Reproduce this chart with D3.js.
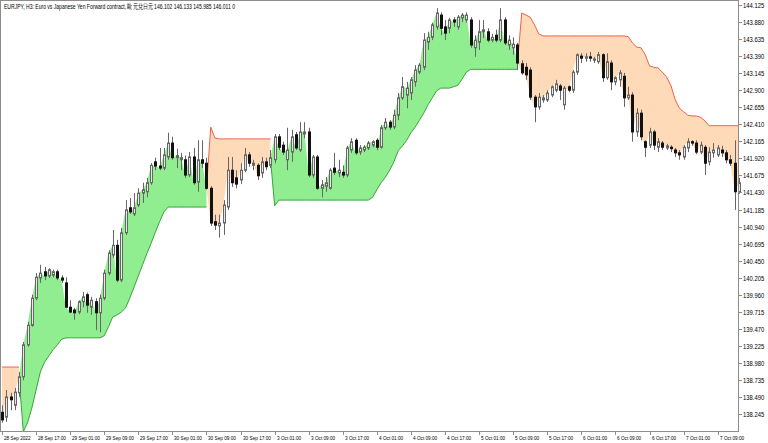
<!DOCTYPE html>
<html><head><meta charset="utf-8">
<script src="https://cdn.jsdelivr.net/npm/d3@7"></script>
<style>
html,body{margin:0;padding:0;background:#fff;}
svg text{font-family:"Liberation Sans",Arial,sans-serif;fill:#000;}
</style></head>
<body><svg id="c" width="768" height="443"></svg>
<script>
const title = "EURJPY, H3:  Euro vs Japanese Yen Forward contract, 歐元兌日元  146.102 146.133 145.985 146.011  0";
const opens = [138.27,138.20,138.49,138.37,138.55,138.78,139.24,139.52,139.91,140.20,140.29,140.23,140.24,140.29,140.20,140.13,139.78,139.74,139.71,139.86,139.96,139.78,139.86,139.70,139.91,140.27,140.53,140.67,140.17,140.85,141.21,141.12,141.25,141.42,141.44,141.57,141.87,141.81,141.78,141.94,142.14,141.93,141.90,141.90,141.68,141.94,141.58,141.90,141.85,141.49,141.01,140.95,140.99,141.22,141.75,141.64,141.61,141.75,141.97,141.82,141.82,141.71,141.87,141.82,141.90,142.23,142.11,141.90,142.01,142.26,142.04,142.27,142.30,141.68,141.94,141.49,141.52,141.49,141.78,141.71,141.72,141.68,142.04,142.18,142.01,142.04,142.07,142.11,142.18,142.08,142.36,142.44,142.37,142.54,142.79,142.83,142.86,143.02,143.16,143.23,143.59,143.66,143.81,143.98,143.81,143.79,143.91,143.81,143.94,143.91,143.91,143.51,143.59,143.74,143.74,143.62,143.69,143.62,143.91,143.55,143.51,143.55,143.28,143.23,143.19,142.80,142.66,142.76,142.76,142.83,142.90,142.96,142.69,142.95,142.90,143.16,143.39,143.36,143.38,143.33,143.31,143.41,143.08,143.29,143.02,143.05,143.10,142.79,142.83,142.30,142.57,142.16,142.11,142.30,142.08,142.14,142.07,142.08,142.04,142.00,141.94,142.07,142.16,142.14,142.01,142.08,141.87,142.00,141.97,142.04,142.00,141.90,141.85,141.44];
const highs = [138.37,138.59,138.55,138.62,138.85,139.28,139.57,139.96,140.27,140.39,140.36,140.34,140.32,140.32,140.24,140.21,139.88,139.77,139.88,140.00,139.99,139.93,139.91,139.96,140.32,140.60,140.89,140.75,140.92,141.32,141.35,141.42,141.49,141.57,141.64,141.85,141.93,142.07,142.07,142.29,142.23,142.06,142.00,141.96,142.01,142.07,142.18,142.18,141.93,141.52,141.11,141.11,141.32,141.94,141.94,141.75,141.85,142.07,142.01,141.90,141.85,141.94,141.93,142.04,142.27,142.27,142.16,142.36,142.33,142.30,142.44,142.44,142.36,141.97,141.97,141.61,141.65,141.78,142.00,141.90,141.82,142.10,142.21,142.21,142.11,142.11,142.17,142.18,142.21,142.40,142.50,142.47,142.62,142.86,143.09,143.02,143.09,143.26,143.29,143.72,143.74,143.87,144.08,144.02,143.91,143.94,143.95,143.98,144.01,144.02,143.95,143.69,143.91,143.91,143.79,143.71,143.77,144.08,143.95,143.69,143.66,143.58,143.33,143.29,143.23,142.83,142.86,142.83,142.90,142.97,143.05,142.99,142.96,142.97,143.19,143.43,143.43,143.43,143.45,143.38,143.45,143.43,143.43,143.33,143.10,143.19,143.15,142.95,142.87,142.64,142.62,142.18,142.36,142.33,142.21,142.17,142.13,142.11,142.07,142.04,142.11,142.21,142.18,142.18,142.16,142.11,142.08,142.14,142.11,142.10,142.04,141.97,142.18,141.64];
const lows = [138.12,138.13,138.30,138.30,138.49,138.73,139.21,139.50,139.88,140.13,140.17,140.20,140.21,140.17,140.13,139.77,139.70,139.60,139.68,139.78,139.70,139.67,139.45,139.42,139.88,140.24,140.49,140.14,140.14,140.82,141.12,141.09,141.22,141.28,141.36,141.54,141.75,141.75,141.75,141.90,141.90,141.78,141.75,141.64,141.65,141.54,141.44,141.78,141.47,140.95,140.89,140.78,140.82,141.18,141.51,141.49,141.55,141.72,141.80,141.75,141.61,141.64,141.75,141.78,141.85,142.04,141.97,141.75,141.87,142.04,142.01,142.21,141.65,141.64,141.47,141.36,141.44,141.47,141.68,141.65,141.64,141.65,142.00,141.97,141.97,142.01,142.04,142.08,142.04,142.06,142.33,142.33,142.34,142.47,142.76,142.64,142.76,142.95,143.13,143.19,143.48,143.62,143.77,143.69,143.62,143.72,143.81,143.77,143.88,143.87,143.51,143.38,143.48,143.65,143.59,143.59,143.59,143.59,143.55,143.48,143.41,143.19,143.12,143.05,142.76,142.44,142.62,142.72,142.73,142.80,142.87,142.76,142.62,142.87,142.86,143.12,143.29,143.31,143.31,143.29,143.28,143.02,143.05,142.90,142.97,142.95,142.66,142.76,142.16,142.23,142.18,141.94,142.07,142.04,142.01,142.04,142.04,142.01,141.94,141.90,141.90,142.01,142.10,141.98,141.98,141.68,141.82,141.93,141.94,141.94,141.85,141.81,141.18,141.41];
const closes = [138.16,138.49,138.45,138.56,138.78,139.24,139.52,139.91,140.21,140.27,140.23,140.32,140.29,140.20,140.17,139.78,139.71,139.70,139.86,139.93,139.81,139.88,139.70,139.91,140.27,140.56,140.67,140.17,140.85,141.18,141.15,141.21,141.42,141.47,141.57,141.82,141.81,141.78,141.97,142.14,141.93,141.96,141.93,141.68,141.94,141.57,141.90,141.85,141.49,140.99,140.96,140.99,141.25,141.75,141.57,141.55,141.75,141.97,141.85,141.85,141.67,141.87,141.80,141.93,142.23,142.08,142.01,142.04,142.23,142.07,142.30,142.30,141.68,141.94,141.49,141.54,141.57,141.75,141.72,141.75,141.68,142.07,142.16,142.00,142.07,142.08,142.14,142.16,142.08,142.36,142.44,142.37,142.54,142.79,142.95,142.93,143.05,143.19,143.26,143.62,143.66,143.84,144.01,143.79,143.72,143.91,143.88,143.95,143.98,143.98,143.55,143.62,143.74,143.77,143.62,143.66,143.62,143.91,143.58,143.62,143.56,143.29,143.15,143.12,142.80,142.66,142.80,142.79,142.86,142.95,142.99,142.90,142.93,142.90,143.16,143.41,143.36,143.38,143.36,143.35,143.41,143.08,143.31,143.02,143.08,143.15,142.79,142.83,142.30,142.57,142.23,142.08,142.30,142.11,142.16,142.08,142.10,142.06,142.00,141.97,142.08,142.16,142.14,142.01,142.11,141.85,142.01,142.04,142.07,142.00,141.90,141.85,141.44,141.57];
const stops = [138.92,138.92,138.92,138.92,138.92,137.99,138.12,138.33,138.59,138.85,138.99,139.08,139.17,139.24,139.32,139.34,139.34,139.34,139.34,139.34,139.34,139.34,139.34,139.34,139.37,139.50,139.64,139.67,139.71,139.77,139.91,140.07,140.23,140.39,140.55,140.70,140.86,141.01,141.15,141.22,141.22,141.22,141.22,141.22,141.22,141.22,141.22,141.22,141.22,142.37,142.21,142.20,142.20,142.20,142.20,142.20,142.20,142.20,142.20,142.20,142.20,142.20,142.20,142.20,141.24,141.32,141.32,141.32,141.32,141.32,141.32,141.32,141.32,141.32,141.32,141.32,141.32,141.32,141.32,141.32,141.32,141.32,141.32,141.32,141.32,141.32,141.32,141.36,141.47,141.57,141.65,141.75,141.87,142.03,142.10,142.18,142.29,142.37,142.47,142.57,142.69,142.79,142.89,142.93,142.93,142.93,142.95,142.97,143.06,143.16,143.20,143.20,143.20,143.20,143.20,143.20,143.20,143.20,143.20,143.20,143.20,143.20,144.01,143.98,143.95,143.84,143.71,143.68,143.68,143.68,143.68,143.68,143.68,143.68,143.68,143.68,143.68,143.68,143.68,143.68,143.68,143.68,143.68,143.68,143.68,143.68,143.68,143.67,143.58,143.52,143.51,143.41,143.25,143.23,143.22,143.16,143.09,142.97,142.77,142.64,142.59,142.54,142.53,142.53,142.51,142.46,142.39,142.39,142.39,142.39,142.39,142.39,142.39,142.39];
const priceTicks = [144.125,143.880,143.635,143.390,143.145,142.900,142.655,142.410,142.165,141.920,141.675,141.430,141.185,140.940,140.695,140.450,140.205,139.960,139.715,139.470,139.225,138.980,138.735,138.490,138.245];
const timeLabels = ["28 Sep 2022","28 Sep 17:00","29 Sep 01:00","29 Sep 09:00","29 Sep 17:00","30 Sep 01:00","30 Sep 09:00","30 Sep 17:00","3 Oct 01:00","3 Oct 09:00","3 Oct 17:00","4 Oct 01:00","4 Oct 09:00","4 Oct 17:00","5 Oct 01:00","5 Oct 09:00","5 Oct 17:00","6 Oct 01:00","6 Oct 09:00","6 Oct 17:00","7 Oct 01:00","7 Oct 09:00"];

// hourly bar times, weekends skipped
const times = [];
{ let t = new Date(2022, 8, 28, 9);
  while (times.length < closes.length) {
    const d = t.getDay();
    if (d !== 0 && d !== 6) times.push(new Date(t));
    t = new Date(t.getTime() + 3600000);
  } }

const bars = closes.map((c, i) => ({i, o: opens[i], h: highs[i], l: lows[i], c, s: stops[i], up: c > stops[i]}));

const plotR = 738, plotB = 431;
const svg = d3.select("#c");
const x = d3.scaleLinear().domain([0, bars.length - 1]).range([2, 739]);
const y = d3.scaleLinear().domain([138.245, 144.125]).range([414, 5]);

svg.append("defs").append("clipPath").attr("id", "pc")
  .append("rect").attr("x", 0).attr("y", 0).attr("width", plotR).attr("height", plotB);

const g = svg.append("g").attr("clip-path", "url(#pc)");

// split into runs of same trend
const runs = [];
bars.forEach((b, i) => {
  if (i === 0 || b.up !== bars[i - 1].up) runs.push({up: b.up, pts: i > 0 ? [{i: i - 1, s: bars[i - 1].c, c: bars[i - 1].c}] : []});
  runs[runs.length - 1].pts.push({i, s: b.s, c: b.c});
});

const area = d3.area().x(d => x(d.i)).y0(d => y(d.s)).y1(d => y(d.c));
const line = d3.line().x(d => x(d.i)).y(d => y(d.s));
runs.forEach(r => {
  g.append("path").attr("d", area(r.pts)).attr("fill", r.up ? "#90ee90" : "#ffdab9").attr("stroke", "none");
});
runs.forEach(r => {
  g.append("path").attr("d", line(r.pts)).attr("fill", "none")
    .attr("stroke", r.up ? "#3aa33a" : "#f0604a").attr("stroke-width", 1);
});

// candles
const cg = svg.append("g");
bars.forEach(b => {
  const r = Math.round(x(b.i));
  const bull = b.c >= b.o;
  cg.append("line").attr("x1", r + 0.5).attr("x2", r + 0.5)
    .attr("y1", y(b.h)).attr("y2", y(b.l)).attr("stroke", "#666").attr("stroke-width", 1);
  const top = y(Math.max(b.o, b.c)), bot = y(Math.min(b.o, b.c));
  const hgt = Math.max(1, bot - top);
  if (bull) {
    cg.append("rect").attr("x", r - 0.5).attr("y", top).attr("width", 2).attr("height", hgt)
      .attr("fill", "#e8e8e8").attr("stroke", "#666").attr("stroke-width", 1);
  } else {
    cg.append("rect").attr("x", r - 1).attr("y", top - 0.5).attr("width", 3).attr("height", hgt + 1)
      .attr("fill", "#111");
  }
});

// frame
svg.append("rect").attr("x", 0.5).attr("y", 0.5).attr("width", plotR).attr("height", plotB)
  .attr("fill", "none").attr("stroke", "#8c8c8c").attr("stroke-width", 1);

// right axis
const ay = svg.append("g");
priceTicks.forEach(p => {
  const yy = Math.round(y(p)) + 0.5;
  ay.append("line").attr("x1", plotR + 0.5).attr("x2", plotR + 4).attr("y1", yy).attr("y2", yy).attr("stroke", "#8c8c8c");
  const t = ay.append("text").attr("x", plotR + 5).attr("y", yy + 2.2).attr("font-size", 6.5).text(p.toFixed(3));
  const w = t.node().getComputedTextLength();
  t.attr("textLength", w * 0.9).attr("lengthAdjust", "spacingAndGlyphs");
});

// bottom axis
const fmtH = d3.timeFormat("%H");
const tickIdx = times.map((t, i) => i).filter(i => (+fmtH(times[i])) % 8 === 1 || i === 0);
const ax = svg.append("g");
tickIdx.forEach((bi, k) => {
  if (k >= timeLabels.length) return;
  const xx = Math.round(x(bi)) + 0.5;
  ax.append("line").attr("x1", xx).attr("x2", xx).attr("y1", plotB + 0.5).attr("y2", plotB + 4).attr("stroke", "#8c8c8c");
  const t = ax.append("text").attr("x", xx + 1.5).attr("y", 440).attr("font-size", 6).text(timeLabels[k]);
  const w = t.node().getComputedTextLength();
  t.attr("textLength", w * 0.78).attr("lengthAdjust", "spacingAndGlyphs");
});

// title
const tt = svg.append("text").attr("x", 4).attr("y", 9).attr("font-size", 7).text(title);
tt.attr("textLength", 231).attr("lengthAdjust", "spacingAndGlyphs");
</script></body></html>
